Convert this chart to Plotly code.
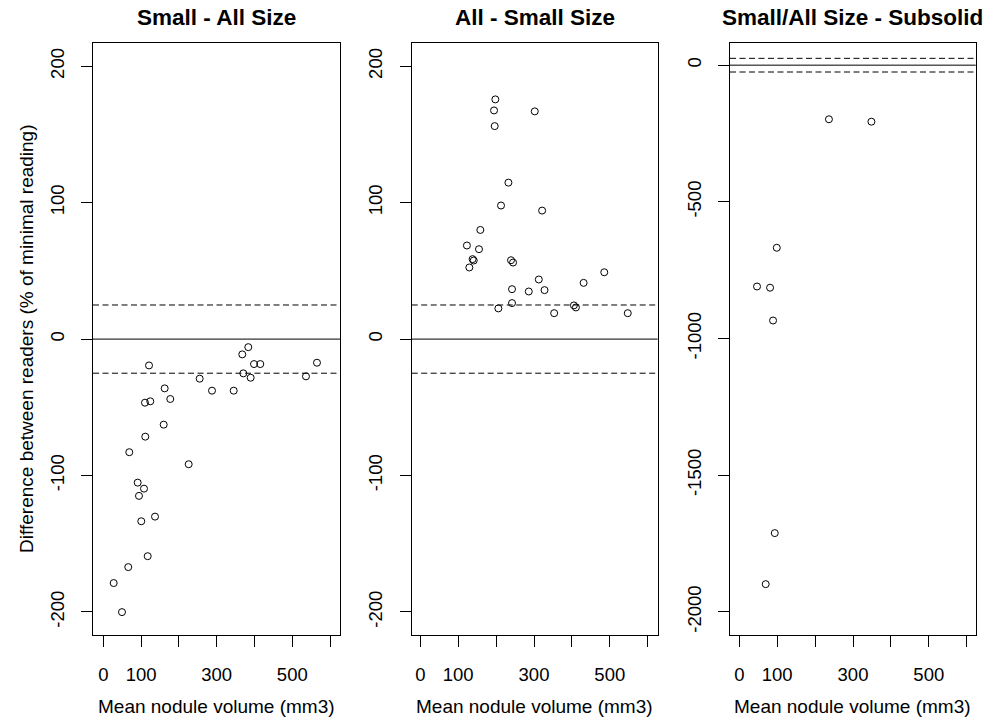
import plotly.graph_objects as go

# ---- data ----
x_small_all = [121, 383.6, 367.7, 398.7, 415.3, 565.3, 370.4, 389.9, 536.2, 255, 287.6, 345,
               162.4, 177.2, 110.3, 124.3, 159.8, 111.1, 68.8, 225.9, 91, 107.7, 94.4, 136.8,
               100.5, 117.5, 66.1, 27.5, 49.5, 191.5]
y_small_all = [-19.3, -5.9, -11.2, -18.3, -18.3, -17.3, -25.1, -28.3, -27.3, -29, -37.8, -37.8,
               -36.1, -43.9, -46.6, -45.6, -62.7, -71.5, -82.9, -91.7, -105.2, -109.6, -114.9, -130.1,
               -133.5, -159.1, -167.1, -178.8, -200.1, -222]

x_all_small = [198, 194.5, 302, 196.3, 232.5, 213, 321.4, 158.4, 123, 154.8, 138, 141, 129.4,
               239.4, 244.7, 485.4, 312.7, 430.9, 242, 286.2, 327.8, 242, 206, 353.2, 547.4,
               405.3, 410.6]
y_all_small = [175.7, 167.6, 166.9, 156.1, 114.7, 97.9, 94.2, 80, 68.6, 65.9, 58.6, 57.6, 52.5,
               57.8, 56.1, 49, 43.7, 41.2, 36.6, 34.9, 35.9, 26.4, 22.5, 19, 19,
               24.7, 23.2]

x_subsolid = [236.5, 348.6, 98.9, 46.8, 81.2, 89.1, 93.6, 69.7]
y_subsolid = [-198, -206.8, -668, -809.8, -814.2, -934.2, -1712, -1898.8]

titles = ["Small - All Size", "All - Small Size", "Small/All Size - Subsolid"]
x_title = "Mean nodule volume (mm3)"
y_title = "Difference between readers (% of minimal reading)"

x_tickvals = [0, 100, 200, 300, 400, 500, 600]
x_ticktext = ["0", "100", "", "300", "", "500", ""]
y_tickvals_12 = [-200, -100, 0, 100, 200]
y_ticktext_12 = ["-200", "-100", "0", "100", "200"]
y_tickvals_3 = [-2000, -1500, -1000, -500, 0]
y_ticktext_3 = ["-2000", "-1500", "-1000", "-500", "0"]
limit_lines = [-25, 0, 25]

# ---- layout geometry (pixels) ----
W, H = 1002, 718
boxes = [(93, 340), (411.7, 657.7), (730, 975.7)]
y_top, y_bot = 43.3, 634.5
x_ranges = [[-27.2, 626.2], [-22.7, 626.4], [-24.5, 623.7]]
y_ranges = [[-216.5, 216.8], [-216.5, 216.8], [-2083, 80]]

FONT = "Liberation Sans, Arial, Helvetica, sans-serif"
TICK_SIZE = 18.5
LAB_SIZE = 19
MAIN_SIZE = 22.5

fig = go.Figure()
data = [(x_small_all, y_small_all), (x_all_small, y_all_small), (x_subsolid, y_subsolid)]

for i, (xs, ys) in enumerate(data):
    sfx = "" if i == 0 else str(i + 1)
    fig.add_trace(go.Scatter(
        x=xs, y=ys, mode="markers", xaxis="x" + sfx, yaxis="y" + sfx,
        marker=dict(symbol="circle-open", size=7, color="black", line=dict(width=1, color="black")),
        cliponaxis=True, showlegend=False, hoverinfo="x+y"))

for i in range(3):
    sfx = "" if i == 0 else str(i + 1)
    l, r = boxes[i]
    xa = dict(domain=[l / W, r / W], range=x_ranges[i], anchor="y" + sfx,
              tickvals=x_tickvals, ticktext=x_ticktext, ticks="outside", ticklen=11,
              tickwidth=1, tickcolor="black", showline=True, linecolor="black", linewidth=1,
              mirror=True, showgrid=False, zeroline=False,
              tickfont=dict(family=FONT, size=TICK_SIZE, color="black"), ticklabelstandoff=12)
    if i == 2:
        yt, ytt = y_tickvals_3, y_ticktext_3
    else:
        yt, ytt = y_tickvals_12, y_ticktext_12
    ya = dict(domain=[(H - y_bot) / H, (H - y_top) / H], range=y_ranges[i], anchor="x" + sfx,
              tickvals=yt, ticktext=ytt, ticks="outside", ticklen=11, tickwidth=1,
              tickcolor="black", showline=True, linecolor="black", linewidth=1, mirror=True,
              showgrid=False, zeroline=False, tickangle=-90,
              tickfont=dict(family=FONT, size=TICK_SIZE, color="black"), ticklabelstandoff=10)
    fig.layout["xaxis" + sfx] = xa
    fig.layout["yaxis" + sfx] = ya

    for v in limit_lines:
        fig.add_shape(type="line", xref="x" + sfx + " domain", yref="y" + sfx,
                      x0=0, x1=1, y0=v, y1=v,
                      line=dict(color="black", width=1, dash="solid" if v == 0 else "6px,3.5px"))

    cx = (l + r) / 2 / W
    fig.add_annotation(text="<b>" + titles[i] + "</b>", xref="paper", yref="paper",
                       x=cx, y=1 - 18 / H, xanchor="center", yanchor="middle", showarrow=False,
                       font=dict(family=FONT, size=MAIN_SIZE, color="black"))
    fig.add_annotation(text=x_title, xref="paper", yref="paper",
                       x=cx, y=1 - 706 / H, xanchor="center", yanchor="middle", showarrow=False,
                       font=dict(family=FONT, size=LAB_SIZE, color="black"))

fig.add_annotation(text=y_title, xref="paper", yref="paper", textangle=-90,
                   x=27 / W, y=1 - ((y_top + y_bot) / 2) / H, xanchor="center", yanchor="middle",
                   showarrow=False, font=dict(family=FONT, size=LAB_SIZE, color="black"))

fig.update_layout(width=W, height=H, autosize=False, margin=dict(l=0, r=0, t=0, b=0),
                  paper_bgcolor="white", plot_bgcolor="white")

fig.write_html("out.html", config={"displayModeBar": False},
               post_script="document.body.style.margin='0px';")
